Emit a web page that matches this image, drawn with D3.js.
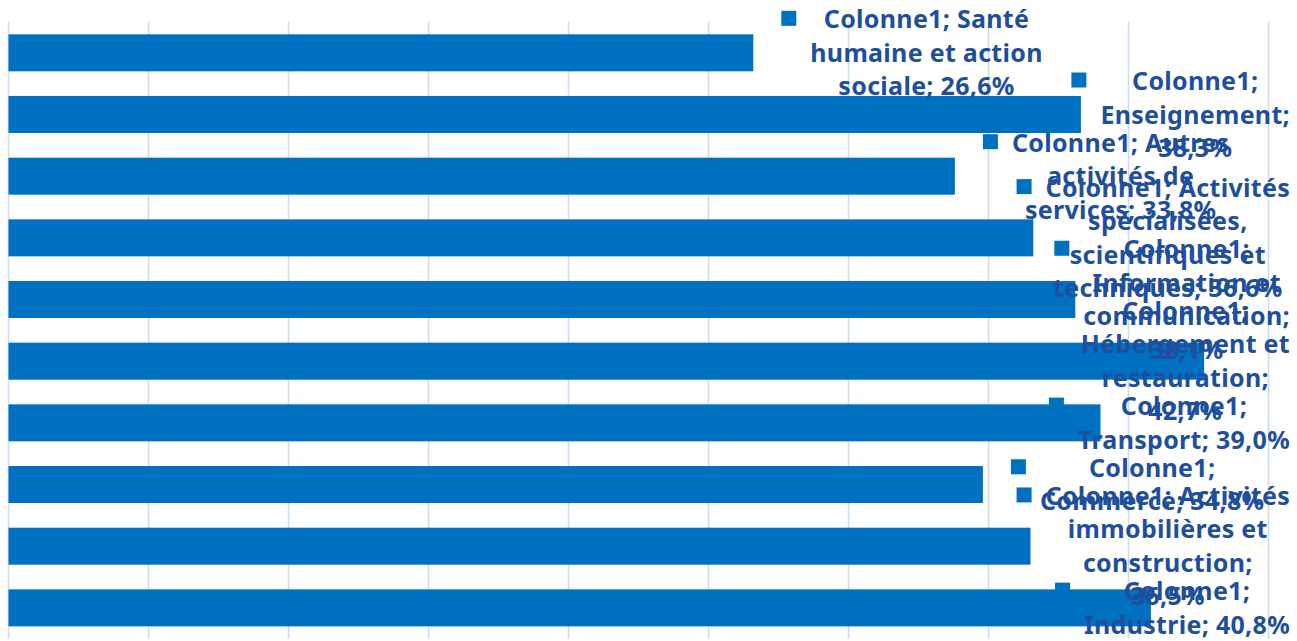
<!DOCTYPE html>
<html>
<head>
<meta charset="utf-8">
<script src="https://cdn.jsdelivr.net/npm/d3@7"></script>
<style>
  body { margin: 0; background: #fff; }
  svg { display: block; }
</style>
</head>
<body>
<div id="root"></div>
<script>
const seriesName = 'Colonne1';
const categories = [
  'Santé humaine et action sociale',
  'Enseignement',
  'Autres activités de services',
  'Activités spécialisées, scientifiques et techniques',
  'Information et communication',
  'Hébergement et restauration',
  'Transport',
  'Commerce',
  'Activités immobilières et construction',
  'Industrie'
];
const values = [26.6, 38.3, 33.8, 36.6, 38.1, 42.7, 39.0, 34.8, 36.5, 40.8];
const xTicks = [0, 5, 10, 15, 20, 25, 30, 35, 40, 45];

const width = 1297;
const height = 641;
const plotLeft = 8.5;
const plotRight = 1268.5;
const plotTop = 22;
const plotBottom = 638.7;
const labelRight = 1290;
const keySize = 15;
const keyGap = 29;
const labelOffset = 28;
const lineHeight = 33.5;
const wrapWidth = 246;
const fontSize = '25px';
const letterSpacing = '0.3px';
const barColor = '#0070c0';
const textColor = '#1f4f9c';
const gridColor = '#c9dcf4';

const svg = d3.select('#root')
  .append('svg')
  .attr('width', width)
  .attr('height', height);

const x = d3.scaleLinear()
  .domain([0, 45])
  .range([plotLeft, plotRight]);

const y = d3.scaleBand()
  .domain(categories)
  .range([plotTop, plotBottom])
  .paddingInner(0.4)
  .paddingOuter(0.2);

svg.append('g')
  .selectAll('line')
  .data(xTicks)
  .join('line')
  .attr('x1', (d) => x(d))
  .attr('x2', (d) => x(d))
  .attr('y1', plotTop)
  .attr('y2', plotBottom)
  .attr('stroke', gridColor)
  .attr('stroke-width', 1.5);

svg.append('g')
  .selectAll('rect')
  .data(values)
  .join('rect')
  .attr('x', x(0))
  .attr('y', (_d, i) => y(categories[i]))
  .attr('width', (d) => x(d) - x(0))
  .attr('height', y.bandwidth())
  .attr('fill', barColor);

// measure + wrap label text like the spreadsheet does
const measure = svg.append('text')
  .attr('font-family', '"Noto Sans", sans-serif')
  .attr('font-weight', 'bold')
  .attr('font-size', fontSize)
  .attr('letter-spacing', letterSpacing)
  .attr('visibility', 'hidden');

function textWidth(str) {
  measure.text(str);
  return measure.node().getComputedTextLength();
}

function wrap(str) {
  const words = str.split(' ');
  const lines = [];
  let current = words[0];
  for (let k = 1; k < words.length; k += 1) {
    const next = `${current} ${words[k]}`;
    if (textWidth(next) > wrapWidth) {
      lines.push(current);
      current = words[k];
    } else {
      current = next;
    }
  }
  lines.push(current);
  return lines;
}

const fmt = (v) => `${d3.format('.1f')(v).replace('.', ',')}%`;

const labels = values.map((v, i) => {
  const lines = wrap(`${seriesName}; ${categories[i]}; ${fmt(v)}`);
  const textW = d3.max(lines, textWidth);
  const keyLeft = Math.min(x(v) + labelOffset, labelRight - textW - keyGap);
  const center = y(categories[i]) + y.bandwidth() / 2;
  return { lines, textW, keyLeft, center };
});
measure.remove();

const label = svg.append('g')
  .selectAll('g')
  .data(labels)
  .join('g');

label.append('rect')
  .attr('x', (d) => d.keyLeft)
  .attr('y', (d) => d.center - ((d.lines.length - 1) * lineHeight) / 2 - 8.5)
  .attr('width', keySize)
  .attr('height', keySize)
  .attr('fill', barColor);

label.append('text')
  .attr('font-family', '"Noto Sans", sans-serif')
  .attr('font-weight', 'bold')
  .attr('font-size', fontSize)
  .attr('letter-spacing', letterSpacing)
  .attr('fill', textColor)
  .attr('text-anchor', 'middle')
  .selectAll('tspan')
  .data((d) => d.lines.map((line, k) => ({ line, k, d })))
  .join('tspan')
  .attr('x', (t) => t.d.keyLeft + keyGap + t.d.textW / 2)
  .attr('y', (t) => t.d.center + (t.k - (t.d.lines.length - 1) / 2) * lineHeight + 9)
  .text((t) => t.line);
</script>
</body>
</html>
